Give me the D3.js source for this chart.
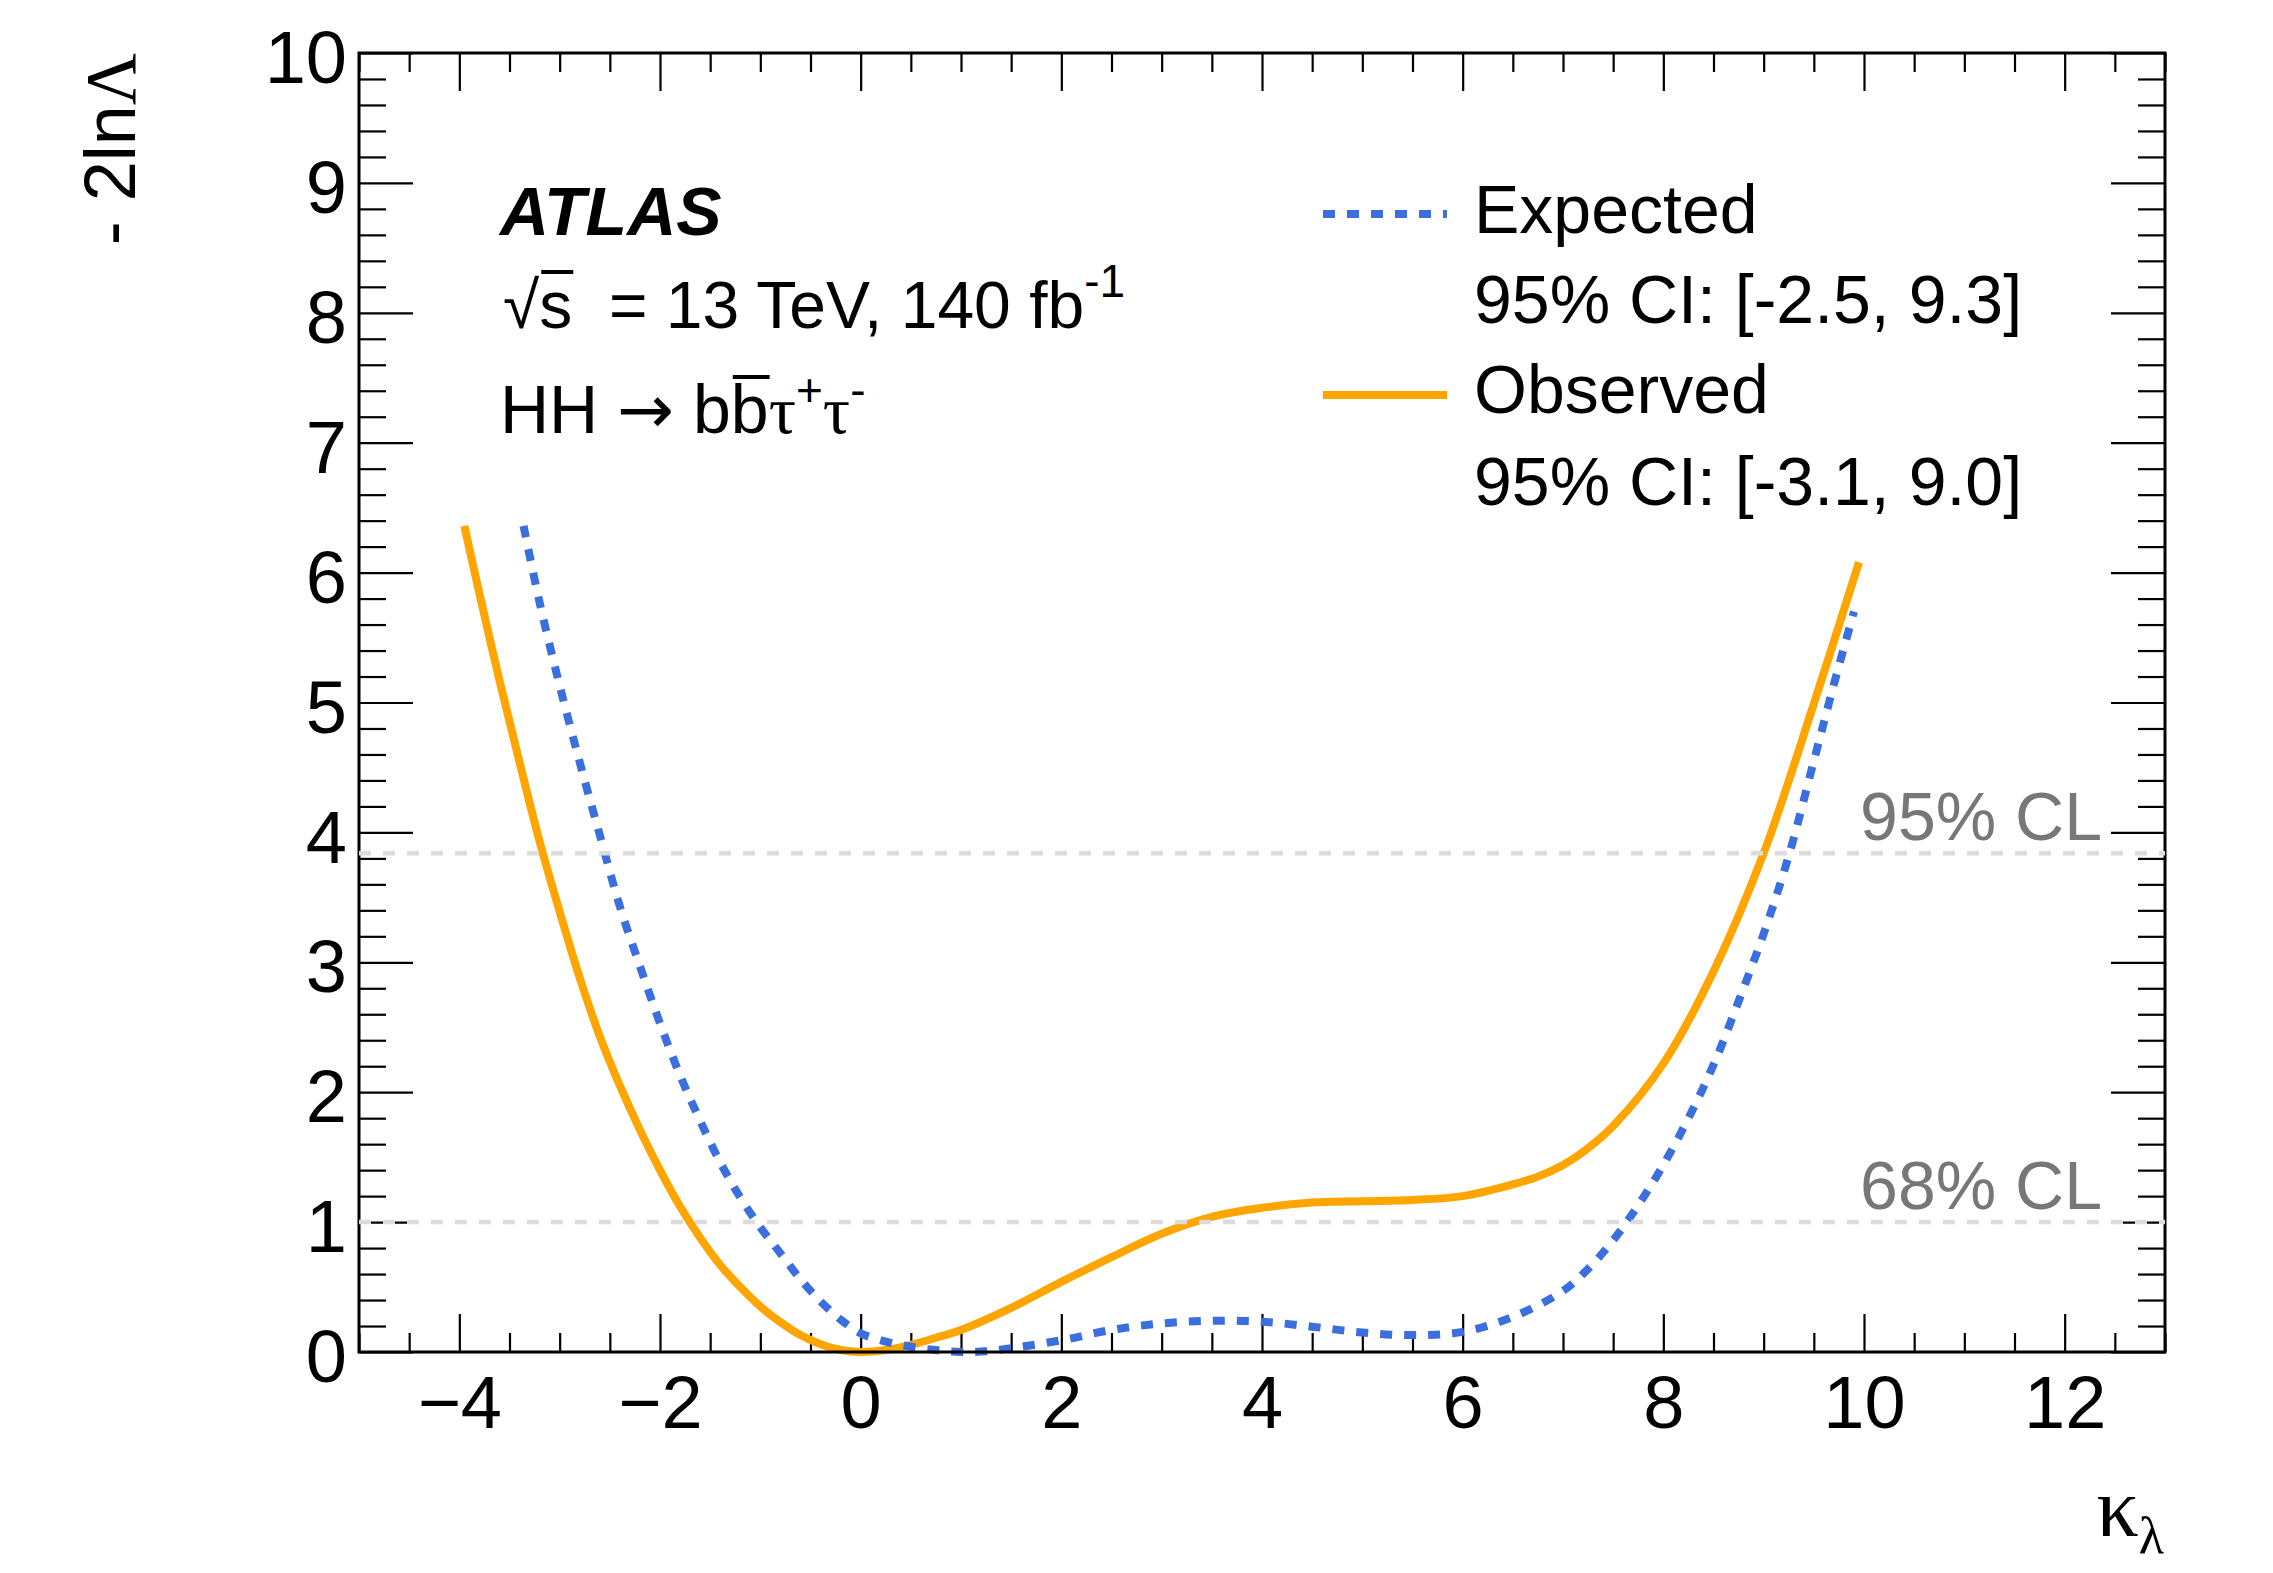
<!DOCTYPE html>
<html>
<head>
<meta charset="utf-8">
<script src="https://cdn.jsdelivr.net/npm/d3@7"></script>
<style>
  body { margin: 0; background: #fff; }
  text { font-family: "Liberation Sans", Arial, Helvetica, sans-serif; fill: #000; }
  .serif { font-family: "Liberation Serif", "Times New Roman", serif; }
  .arrow { font-family: "DejaVu Sans", sans-serif; }
</style>
</head>
<body>
<div class="chart"></div>
<script>
// DATA ------
const kappaObs = [-3.95, -3.8, -3.6, -3.4, -3.2, -3.0, -2.8, -2.6, -2.4, -2.2, -2.0, -1.8, -1.6, -1.4, -1.2, -1.0,
  -0.8, -0.6, -0.4, -0.2, 0, 0.25, 0.5, 0.75, 1.0, 1.5, 2.0, 2.5, 3.0, 3.5, 4.0, 4.5, 5.0, 5.5, 6.0,
  6.5, 6.75, 7.0, 7.25, 7.5, 8.0, 8.5, 9.0, 9.5, 9.95];
const nllObs = [6.36, 5.84, 5.17, 4.54, 3.93, 3.39, 2.88, 2.43, 2.05, 1.71, 1.40, 1.12, 0.88, 0.67, 0.50, 0.35,
  0.23, 0.13, 0.06, 0.015, 0.0, 0.015, 0.055, 0.11, 0.17, 0.34, 0.54, 0.73, 0.91, 1.04, 1.11, 1.15, 1.16, 1.17, 1.20,
  1.29, 1.35, 1.44, 1.57, 1.74, 2.22, 2.93, 3.84, 4.99, 6.08];

const kappaExp = [-3.36, -3.2, -3.0, -2.8, -2.6, -2.4, -2.2, -2.0, -1.8, -1.6, -1.4, -1.2, -1.0, -0.8, -0.6, -0.4,
  -0.2, 0, 0.25, 0.5, 0.75, 1.0, 1.25, 1.5, 2.0, 2.5, 3.0, 3.5, 4.0, 4.5, 5.0, 5.5, 6.0, 6.5, 7.0, 7.25, 7.5, 7.75,
  8.0, 8.25, 8.5, 8.75, 9.0, 9.25, 9.5, 9.7, 9.9];
const nllExp = [6.36, 5.77, 5.13, 4.54, 3.98, 3.43, 2.97, 2.53, 2.13, 1.78, 1.46, 1.19, 0.96, 0.76, 0.56, 0.39,
  0.25, 0.144, 0.08, 0.04, 0.015, 0.0, 0.005, 0.03, 0.09, 0.17, 0.22, 0.24, 0.233, 0.195, 0.15, 0.13, 0.155, 0.27,
  0.47, 0.64, 0.86, 1.13, 1.44, 1.80, 2.21, 2.70, 3.22, 3.82, 4.55, 5.14, 5.70];

const xTicks = [-4, -2, 0, 2, 4, 6, 8, 10, 12];
const yTicks = [0, 1, 2, 3, 4, 5, 6, 7, 8, 9, 10];
const clLevels = [1, 3.84];
const clLabels = ["68% CL", "95% CL"];

const legendNames = ["Expected", "Observed"];
const legendCI = ["95% CI: [-2.5, 9.3]", "95% CI: [-3.1, 9.0]"];

//Chart INIT------
const W = 2273, H = 1573;
const margin = ({top: 53, right: 108, bottom: 221, left: 359});
const width = W - margin.left - margin.right;
const height = H - margin.top - margin.bottom;

const root = d3.select('.chart')
  .append('svg')
  .attr("width", W)
  .attr("height", H)
  .style("background", "#fff");

const svg = root.append("g")
  .attr("transform", `translate(${margin.left},${margin.top})`);

const xScale = d3.scaleLinear().domain([-5, 13]).range([0, width]);
const yScale = d3.scaleLinear().domain([0, 10]).range([height, 0]);

const blue = "#3b6fdd";
const orange = "#ffa500";
const tickFont = 74;

// minor ticks
const xMinor = d3.range(-5, 13.001, 0.5).filter(v => !xTicks.includes(v));
const yMinor = d3.range(0, 10.001, 0.2).filter(v => Math.abs(v - Math.round(v)) > 1e-6);

function tickStyle(g) {
  g.select(".domain").remove();
  g.selectAll(".tick line").attr("stroke", "#000").attr("stroke-width", 2.2);
}

svg.append("g").attr("transform", `translate(0,${height})`)
  .call(d3.axisBottom(xScale).tickValues(xMinor).tickSize(-19).tickFormat(""))
  .call(tickStyle);
svg.append("g")
  .call(d3.axisTop(xScale).tickValues(xMinor).tickSize(-19).tickFormat(""))
  .call(tickStyle);
svg.append("g").call(d3.axisLeft(yScale).tickValues(yMinor).tickSize(-27).tickFormat(""))
  .call(tickStyle);
svg.append("g").attr("transform", `translate(${width},0)`)
  .call(d3.axisRight(yScale).tickValues(yMinor).tickSize(-27).tickFormat(""))
  .call(tickStyle);

// major ticks + labels
const xAxis = svg.append("g").attr("transform", `translate(0,${height})`)
  .call(d3.axisBottom(xScale).tickValues(xTicks).tickSize(-38).tickPadding(23)
    .tickFormat(d => d < 0 ? "\u2212" + Math.abs(d) : d))
  .call(tickStyle);
xAxis.selectAll("text").attr("font-size", tickFont).attr("fill", "#000")
  .style("font-family", '"Liberation Sans", Arial, sans-serif');

svg.append("g")
  .call(d3.axisTop(xScale).tickValues(xTicks).tickSize(-38).tickFormat(""))
  .call(tickStyle);

const yAxis = svg.append("g")
  .call(d3.axisLeft(yScale).tickValues(yTicks).tickSize(-54).tickPadding(12))
  .call(tickStyle);
yAxis.selectAll("text").attr("font-size", tickFont).attr("dy", "0.4em").attr("fill", "#000")
  .style("font-family", '"Liberation Sans", Arial, sans-serif');

svg.append("g").attr("transform", `translate(${width},0)`)
  .call(d3.axisRight(yScale).tickValues(yTicks).tickSize(-54).tickFormat(""))
  .call(tickStyle);

// curves
const line = d3.line()
  .x(d => xScale(d[0]))
  .y(d => yScale(d[1]))
  .curve(d3.curveCatmullRom.alpha(0.5));

svg.append("path")
  .datum(d3.zip(kappaObs, nllObs))
  .attr("fill", "none")
  .attr("stroke", orange)
  .attr("stroke-width", 8)
  .attr("d", line);

svg.append("path")
  .datum(d3.zip(kappaExp, nllExp))
  .attr("fill", "none")
  .attr("stroke", blue)
  .attr("stroke-width", 8)
  .attr("stroke-dasharray", "12,12")
  .attr("d", line);

// frame
svg.append("rect")
  .attr("width", width)
  .attr("height", height)
  .attr("fill", "none")
  .attr("stroke", "#000")
  .attr("stroke-width", 3);

// CL lines on top
svg.selectAll(".cl")
  .data(clLevels)
  .enter()
  .append("line")
  .attr("class", "cl")
  .attr("x1", 0)
  .attr("x2", width)
  .attr("y1", d => yScale(d))
  .attr("y2", d => yScale(d))
  .attr("stroke", "#dcdcdc")
  .attr("stroke-width", 4.5)
  .attr("stroke-dasharray", "12,12");

svg.selectAll(".cl-label")
  .data(clLevels)
  .enter()
  .append("text")
  .attr("class", "cl-label")
  .attr("x", 1743)
  .attr("y", d => yScale(d) - 13)
  .attr("text-anchor", "end")
  .attr("font-size", 68)
  .style("fill", "#777")
  .text((d, i) => clLabels[i]);

// axis titles
const yTitle = root.append("text")
  .attr("transform", "translate(135,53) rotate(-90)")
  .attr("text-anchor", "end")
  .attr("font-size", 72);
yTitle.append("tspan").text("- 2ln");
yTitle.append("tspan").attr("class", "serif").text("\u039B");

const xTitle = root.append("text")
  .attr("x", 2164)
  .attr("y", 1536)
  .attr("text-anchor", "end")
  .attr("class", "serif")
  .attr("font-size", 84);
xTitle.append("tspan").text("\u03BA");
xTitle.append("tspan").attr("font-size", 52).attr("dy", 17).text("\u03BB");

// ATLAS label
root.append("text")
  .attr("x", 500)
  .attr("y", 235)
  .attr("font-size", 68)
  .attr("font-weight", "bold")
  .attr("font-style", "italic")
  .text("ATLAS");

const energy = root.append("text")
  .attr("x", 503)
  .attr("y", 328)
  .attr("font-size", 66);
energy.append("tspan").text("\u221As\u00a0\u00a0= 13 TeV, 140 fb");
energy.append("tspan").attr("font-size", 46).attr("dy", -31).text("-1");

const ch = root.append("text")
  .attr("x", 500)
  .attr("y", 433)
  .attr("font-size", 68);
ch.append("tspan").text("HH ");
ch.append("tspan").attr("class", "arrow").text("\u2192");
ch.append("tspan").text(" bb");
ch.append("tspan").attr("class", "serif").text("\u03C4");
ch.append("tspan").attr("font-size", 46).attr("dy", -27).text("+");
ch.append("tspan").attr("class", "serif").attr("dy", 27).text("\u03C4");
ch.append("tspan").attr("font-size", 46).attr("dy", -27).text("-");

// overlines: on s of sqrt(s) and the second b
function overline(textSel, idx, yTop) {
  const n = textSel.node();
  const a = n.getStartPositionOfChar(idx).x;
  const b = n.getEndPositionOfChar(idx).x;
  root.append("line")
    .attr("x1", a + 2).attr("x2", b + 1)
    .attr("y1", yTop).attr("y2", yTop)
    .attr("stroke", "#000").attr("stroke-width", 4);
}
overline(energy, 1, 272);
overline(ch, 6, 377);

// legend
const legendY = [214, 395];
const legendTextY = [[233, 323], [413, 505]];
legendNames.forEach((name, i) => {
  const l = root.append("line")
    .attr("x1", 1323).attr("x2", 1447)
    .attr("y1", legendY[i]).attr("y2", legendY[i])
    .attr("stroke", i === 0 ? blue : orange)
    .attr("stroke-width", 8);
  if (i === 0) l.attr("stroke-dasharray", "12,12");
  root.append("text")
    .attr("x", 1474).attr("y", legendTextY[i][0])
    .attr("font-size", 68).text(name);
  root.append("text")
    .attr("x", 1474).attr("y", legendTextY[i][1])
    .attr("font-size", 68).text(legendCI[i]);
});
</script>
</body>
</html>
